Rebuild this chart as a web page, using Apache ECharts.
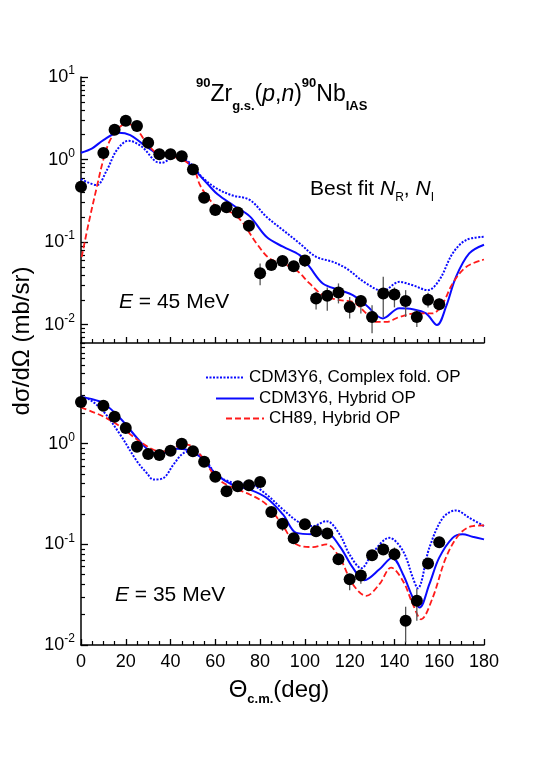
<!DOCTYPE html>
<html>
<head>
<meta charset="utf-8">
<script src="https://cdn.jsdelivr.net/npm/echarts@6/dist/echarts.min.js"></script>
<style>
  html, body { margin: 0; padding: 0; background: #fff; }
  #chart { width: 538px; height: 763px; }
</style>
</head>
<body>
<div id="chart"></div>
<script>
// ---- data: E = 45 MeV (top panel) ----
var exp45Angle = [0, 10, 15, 20, 25, 30, 35, 40, 45, 50, 55, 60, 65, 70, 75, 80, 85, 90, 95, 100, 105, 110, 115, 120, 125, 130, 135, 140, 145, 150, 155, 160];
var exp45Value = [0.47, 1.2, 2.3, 2.95, 2.55, 1.6, 1.16, 1.16, 1.1, 0.76, 0.345, 0.245, 0.265, 0.228, 0.158, 0.042, 0.053, 0.059, 0.051, 0.06, 0.0208, 0.0224, 0.0245, 0.0164, 0.0193, 0.0124, 0.0239, 0.0232, 0.0193, 0.0124, 0.02, 0.0177];
var err45Angle = [80, 100, 105, 110, 115, 120, 125, 130, 135, 140, 145, 150, 155, 160];
var err45Low = [0.030, 0.050, 0.0153, 0.0147, 0.0181, 0.0119, 0.0137, 0.0079, 0.0124, 0.0162, 0.0124, 0.0094, 0.0162, 0.0150];
var err45High = [0.055, 0.0676, 0.025, 0.0282, 0.0316, 0.0217, 0.0228, 0.0172, 0.038, 0.0282, 0.0262, 0.0150, 0.0243, 0.0208];

var cfo45Angle = [0, 3, 7, 11.6, 16, 21.2, 27.2, 33.1, 36, 42, 48, 53.9, 59.8, 67.3, 75.4, 82.8, 90.2, 97.7, 105, 112.5, 118.5, 127.4, 134.8, 142.2, 148.2, 154.9, 160, 166, 172, 180];
var cfo45Value = [0.58, 0.53, 0.49, 0.75, 1.3, 1.69, 1.43, 0.96, 0.914, 1.08, 0.94, 0.62, 0.46, 0.37, 0.324, 0.203, 0.14, 0.0964, 0.0664, 0.0577, 0.048, 0.0316, 0.0257, 0.033, 0.030, 0.0262, 0.0346, 0.073, 0.106, 0.116];
var hyb45Angle = [0, 5, 10, 16.8, 22, 27.2, 31, 35.3, 41, 45, 48, 51, 53.5, 57, 61, 68, 75.4, 82.8, 90.2, 97.7, 102.1, 108, 115.5, 121.4, 127.4, 134.8, 142.2, 148.2, 154.1, 159, 163, 167.5, 173.4, 180];
var hyb45Value = [1.21, 1.37, 1.72, 2.11, 1.98, 1.57, 1.33, 1.13, 1.12, 1.06, 0.9, 0.74, 0.62, 0.49, 0.38, 0.28, 0.205, 0.116, 0.088, 0.0695, 0.05, 0.0316, 0.0262, 0.0228, 0.0172, 0.0119, 0.0158, 0.0154, 0.0137, 0.0099, 0.0164, 0.038, 0.073, 0.093];
var ch45Angle = [0.3, 3.4, 7.1, 10, 13, 17.5, 20.5, 25, 29.4, 33.8, 38.3, 44.2, 50.2, 53, 55.4, 60.6, 68, 72.4, 78.4, 84.3, 90.2, 96.2, 102.1, 108, 115.5, 121.4, 127.4, 131.8, 136.3, 142.2, 149.7, 157, 161.5, 166, 172, 180];
var ch45Value = [0.066, 0.169, 0.47, 1.0, 1.72, 2.5, 2.75, 2.3, 1.57, 1.19, 1.08, 1.03, 0.78, 0.5, 0.39, 0.268, 0.223, 0.169, 0.0964, 0.063, 0.055, 0.0457, 0.0316, 0.0228, 0.0198, 0.0189, 0.0137, 0.0108, 0.0108, 0.0124, 0.0137, 0.0137, 0.018, 0.0316, 0.050, 0.0616];

// ---- data: E = 35 MeV (bottom panel) ----
var exp35Angle = [0, 10, 15, 20, 25, 30, 35, 40, 45, 50, 55, 60, 65, 70, 75, 80, 85, 90, 95, 100, 105, 110, 115, 120, 125, 130, 135, 140, 145, 150, 155, 160];
var exp35Value = [2.6, 2.38, 1.85, 1.43, 0.93, 0.79, 0.77, 0.85, 1.0, 0.84, 0.66, 0.47, 0.337, 0.378, 0.386, 0.417, 0.21, 0.16, 0.115, 0.158, 0.135, 0.128, 0.071, 0.045, 0.049, 0.078, 0.089, 0.0795, 0.0174, 0.0275, 0.0645, 0.105];
var err35Angle = [90, 120, 125, 140, 145, 150];
var err35Low = [0.136, 0.035, 0.0405, 0.0685, 0.0106, 0.0174];
var err35High = [0.164, 0.0485, 0.055, 0.093, 0.024, 0.0359];

var cfo35Angle = [0, 4, 10, 17.5, 25, 29.4, 32.4, 36.9, 41.3, 45.8, 50.2, 56.1, 60.6, 68, 75.4, 82.8, 90.2, 97.7, 103.6, 109.6, 115.5, 120, 125.2, 130.3, 137.7, 143.8, 148.2, 150.4, 155.6, 161.6, 167.5, 173.5, 180];
var cfo35Value = [2.94, 2.73, 2.09, 1.23, 0.668, 0.51, 0.44, 0.457, 0.62, 0.807, 0.84, 0.66, 0.49, 0.41, 0.398, 0.313, 0.222, 0.164, 0.152, 0.17, 0.126, 0.079, 0.058, 0.0826, 0.116, 0.086, 0.0467, 0.0366, 0.0925, 0.183, 0.217, 0.183, 0.152];
var hyb35Angle = [0, 4, 10, 17.5, 25, 30.8, 35.3, 42.8, 47.2, 53.2, 60.6, 68, 75.4, 82.8, 90.2, 96.2, 103.6, 109.6, 115.5, 121.4, 126.6, 133.3, 139, 143.8, 148.2, 151.2, 155.6, 160, 166, 170.4, 174.9, 180];
var hyb35Value = [2.9, 2.8, 2.52, 1.79, 1.14, 0.84, 0.79, 0.89, 0.87, 0.74, 0.49, 0.386, 0.35, 0.29, 0.198, 0.130, 0.126, 0.13, 0.096, 0.0587, 0.044, 0.0565, 0.0737, 0.0505, 0.0296, 0.0236, 0.0402, 0.0737, 0.116, 0.126, 0.119, 0.112];
var ch35Angle = [0, 10, 17.5, 25, 32.4, 36.9, 42.8, 47.2, 53.2, 60.6, 68, 75.4, 82.8, 90.2, 96.2, 103.6, 109.6, 115.5, 121.4, 127.4, 133.3, 138.5, 143.8, 148.2, 151.9, 157.1, 163, 169, 174.9, 180];
var ch35Value = [2.29, 1.86, 1.48, 1.1, 0.87, 0.84, 0.94, 0.98, 0.78, 0.457, 0.363, 0.313, 0.249, 0.152, 0.1, 0.094, 0.1, 0.0737, 0.0402, 0.0308, 0.0402, 0.0587, 0.0433, 0.0255, 0.018, 0.0296, 0.0737, 0.126, 0.152, 0.154];

// ---- tick values ----
var xTickLabels = [0, 20, 40, 60, 80, 100, 120, 140, 160, 180];
var topMajor = [0.01, 0.1, 1, 10];
var topMinor = [0.006, 0.007, 0.008, 0.009, 0.02, 0.03, 0.04, 0.05, 0.06, 0.07, 0.08, 0.09, 0.2, 0.3, 0.4, 0.5, 0.6, 0.7, 0.8, 0.9, 2, 3, 4, 5, 6, 7, 8, 9];
var botMajor = [0.01, 0.1, 1];
var botMinor = [0.02, 0.03, 0.04, 0.05, 0.06, 0.07, 0.08, 0.09, 0.2, 0.3, 0.4, 0.5, 0.6, 0.7, 0.8, 0.9, 2, 3, 4, 5, 6, 7, 8, 9];

var legendNames = ['CDM3Y6, Complex fold. OP', 'CDM3Y6, Hybrid OP', 'CH89, Hybrid OP'];

var FONT = 'Liberation Sans, Arial, Helvetica, sans-serif';
var BLUE = '#0a0aff';
var RED = '#ff1a1a';

function zip(a, b) {
    var out = [];
    for (var i = 0; i < a.length; i++) {
        out.push([a[i], b[i]]);
    }
    return out;
}

function zip3(a, b, c) {
    var out = [];
    for (var i = 0; i < a.length; i++) {
        out.push([a[i], b[i], c[i]]);
    }
    return out;
}

function powLabel(v) {
    var e = Math.round(Math.log(v) / Math.LN10);
    return '{b|10}{s|' + e + '}';
}

var powRich = {
    b: { fontSize: 18, fontFamily: FONT, color: '#000', lineHeight: 24 },
    s: { fontSize: 12, fontFamily: FONT, color: '#000', lineHeight: 12, verticalAlign: 'top' }
};

function makeX(gridIndex, showLabel) {
    return {
        type: 'value', gridIndex: gridIndex, min: 0, max: 180, interval: 20,
        axisLine: { show: true, lineStyle: { color: '#000', width: 1.5 } },
        axisTick: { show: true, inside: true, length: 6, lineStyle: { color: '#000', width: 1.3 } },
        minorTick: { show: true, splitNumber: 4, length: 4, lineStyle: { color: '#000', width: 1.2 } },
        axisLabel: { show: showLabel, fontSize: 18, fontFamily: FONT, color: '#000', margin: 8 },
        splitLine: { show: false }
    };
}

function makeYMajor(gridIndex, min, max, ticks) {
    return {
        type: 'log', logBase: 10, gridIndex: gridIndex, position: 'left', min: min, max: max,
        axisLine: { show: true, lineStyle: { color: '#000', width: 1.5 } },
        axisTick: { show: true, inside: true, length: 7, customValues: ticks, lineStyle: { color: '#000', width: 1.3 } },
        axisLabel: { show: true, customValues: ticks, formatter: powLabel, rich: powRich, margin: 6 },
        splitLine: { show: false }
    };
}

function makeYMinor(gridIndex, min, max, ticks) {
    return {
        type: 'log', logBase: 10, gridIndex: gridIndex, position: 'left', min: min, max: max,
        axisLine: { show: false },
        axisTick: { show: true, inside: true, length: 4, customValues: ticks, lineStyle: { color: '#000', width: 1.2 } },
        axisLabel: { show: false },
        splitLine: { show: false }
    };
}

function curve(name, angles, values, xi, yi, color, dash, width) {
    return {
        name: name, type: 'line', xAxisIndex: xi, yAxisIndex: yi,
        data: zip(angles, values), smooth: 0.35, showSymbol: false, symbol: 'none', z: 2,
        lineStyle: { color: color, width: width, type: dash },
        itemStyle: { color: color }
    };
}

function points(angles, values, xi, yi) {
    return {
        type: 'scatter', xAxisIndex: xi, yAxisIndex: yi, data: zip(angles, values),
        symbol: 'circle', symbolSize: 12, itemStyle: { color: '#000', opacity: 1 }, z: 4
    };
}

function errBars(angles, low, high, xi, yi) {
    return {
        type: 'custom', xAxisIndex: xi, yAxisIndex: yi, data: zip3(angles, low, high), z: 3,
        encode: { x: 0, y: [1, 2] },
        renderItem: function (params, api) {
            var lo = api.coord([api.value(0), api.value(1)]);
            var hi = api.coord([api.value(0), api.value(2)]);
            return {
                type: 'line',
                shape: { x1: lo[0], y1: lo[1], x2: hi[0], y2: hi[1] },
                style: { stroke: '#555', lineWidth: 1.3 }
            };
        }
    };
}

var chart = echarts.init(document.getElementById('chart'), null, { renderer: 'canvas' });

var option = {
    backgroundColor: '#fff',
    animation: false,
    grid: [
        { left: 81, top: 77, width: 403, height: 266 },
        { left: 81, top: 343, width: 403, height: 302 }
    ],
    xAxis: [makeX(0, false), makeX(1, true)],
    yAxis: [
        makeYMajor(0, 0.006, 10, topMajor),
        makeYMinor(0, 0.006, 10, topMinor),
        makeYMajor(1, 0.01, 10, botMajor),
        makeYMinor(1, 0.01, 10, botMinor)
    ],
    legend: [
        { data: [legendNames[0]], left: 205, top: 369 },
        { data: [legendNames[1]], left: 215, top: 390 },
        { data: [legendNames[2]], left: 225, top: 410 }
    ].map(function (l) {
        l.orient = 'horizontal';
        l.padding = 0;
        l.itemWidth = 38;
        l.itemHeight = 10;
        l.selectedMode = false;
        l.itemStyle = { opacity: 0 };
        l.textStyle = { fontSize: 17, fontFamily: FONT, color: '#000' };
        return l;
    }),
    graphic: [
        {
            type: 'text', x: 196, y: 95,
            style: {
                text: '{sup|90}{big|Zr}{sub|g.s.}{big|(}{it|p}{big|,}{it|n}{big|)}{sup|90}{big|Nb}{sub|IAS}',
                textVerticalAlign: 'middle',
                rich: {
                    big: { fontSize: 23, fontFamily: FONT, fill: '#000', lineHeight: 36 },
                    it: { fontSize: 23, fontFamily: FONT, fontStyle: 'italic', fill: '#000', lineHeight: 36 },
                    sup: { fontSize: 13, fontWeight: 'bold', fontFamily: FONT, fill: '#000', lineHeight: 13, verticalAlign: 'top' },
                    sub: { fontSize: 13, fontWeight: 'bold', fontFamily: FONT, fill: '#000', lineHeight: 13, verticalAlign: 'bottom' }
                }
            }
        },
        {
            type: 'text', x: 310, y: 189,
            style: {
                text: '{t|Best fit }{it|N}{sub|R}{t|, }{it|N}{sub|I}',
                textVerticalAlign: 'middle',
                rich: {
                    t: { fontSize: 21, fontFamily: FONT, fill: '#000', lineHeight: 30 },
                    it: { fontSize: 21, fontFamily: FONT, fontStyle: 'italic', fill: '#000', lineHeight: 30 },
                    sub: { fontSize: 12, fontFamily: FONT, fill: '#000', lineHeight: 12, verticalAlign: 'bottom' }
                }
            }
        },
        {
            type: 'text', x: 119, y: 302,
            style: {
                text: '{it|E}{t| = 45 MeV}',
                textVerticalAlign: 'middle',
                rich: {
                    t: { fontSize: 21, fontFamily: FONT, fill: '#000' },
                    it: { fontSize: 21, fontFamily: FONT, fontStyle: 'italic', fill: '#000' }
                }
            }
        },
        {
            type: 'text', x: 115, y: 595,
            style: {
                text: '{it|E}{t| = 35 MeV}',
                textVerticalAlign: 'middle',
                rich: {
                    t: { fontSize: 21, fontFamily: FONT, fill: '#000' },
                    it: { fontSize: 21, fontFamily: FONT, fontStyle: 'italic', fill: '#000' }
                }
            }
        },
        {
            type: 'text', x: 22, y: 341, rotation: Math.PI / 2,
            style: {
                text: 'dσ/dΩ (mb/sr)',
                font: '24px ' + FONT,
                fill: '#000',
                textAlign: 'center',
                textVerticalAlign: 'middle'
            }
        },
        {
            type: 'text', x: 279, y: 690,
            style: {
                text: '{t|Θ}{sub|c.m.}{t|(deg)}',
                textAlign: 'center',
                textVerticalAlign: 'middle',
                rich: {
                    t: { fontSize: 24, fontFamily: FONT, fill: '#000', lineHeight: 32 },
                    sub: { fontSize: 13, fontWeight: 'bold', fontFamily: FONT, fill: '#000', lineHeight: 13, verticalAlign: 'bottom' }
                }
            }
        }
    ],
    series: [
        // top panel
        curve(legendNames[0], cfo45Angle, cfo45Value, 0, 0, BLUE, [2, 1.5], 2),
        curve(legendNames[1], hyb45Angle, hyb45Value, 0, 0, BLUE, 'solid', 2),
        curve(legendNames[2], ch45Angle, ch45Value, 0, 0, RED, [6, 3], 1.8),
        errBars(err45Angle, err45Low, err45High, 0, 0),
        points(exp45Angle, exp45Value, 0, 0),
        // bottom panel
        curve(legendNames[0], cfo35Angle, cfo35Value, 1, 2, BLUE, [2, 1.5], 2),
        curve(legendNames[1], hyb35Angle, hyb35Value, 1, 2, BLUE, 'solid', 2),
        curve(legendNames[2], ch35Angle, ch35Value, 1, 2, RED, [6, 3], 1.8),
        errBars(err35Angle, err35Low, err35High, 1, 2),
        points(exp35Angle, exp35Value, 1, 2)
    ]
};

chart.setOption(option);
</script>
</body>
</html>
